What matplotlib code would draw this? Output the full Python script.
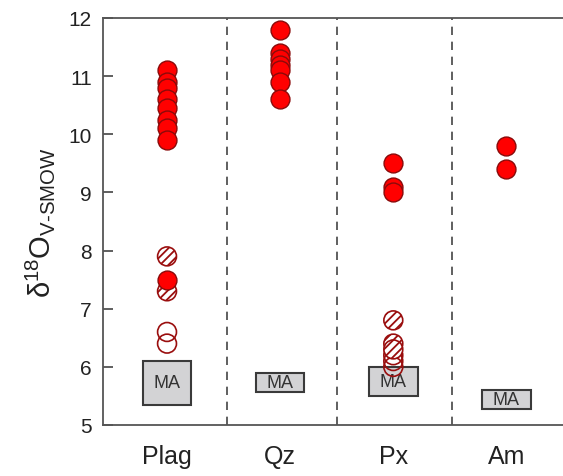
import matplotlib.pyplot as plt
from matplotlib.patches import Rectangle

plt.rcParams['font.family'] = ['Liberation Sans', 'DejaVu Sans']
plt.rcParams['mathtext.fontset'] = 'custom'
plt.rcParams['mathtext.rm'] = 'Liberation Sans'
plt.rcParams['mathtext.it'] = 'Liberation Sans'
plt.rcParams['hatch.color'] = '#a01010'
plt.rcParams['hatch.linewidth'] = 1.3

# Mineral groups
minerals = ['Plag', 'Qz', 'Px', 'Am']

# delta18O values per mineral, split by symbol type
filled = {
    'Plag': [11.1, 10.9, 10.8, 10.6, 10.45, 10.25, 10.1, 9.9, 7.5],
    'Qz': [11.8, 11.4, 11.3, 11.2, 11.1, 10.9, 10.6],
    'Px': [9.5, 9.1, 9.0],
    'Am': [9.8, 9.4],
}
hatched = {
    'Plag': [7.9, 7.3],
    'Px': [6.8, 6.4, 6.3],
}
open_pts = {
    'Plag': [6.6, 6.4],
    'Px': [6.2, 6.1, 6.0],
}

# MA range (low, high) for each mineral
ma_low = [5.35, 5.56, 5.50, 5.27]
ma_high = [6.10, 5.90, 5.99, 5.60]

fig = plt.figure(figsize=(5.63, 4.77), dpi=100)
ax = fig.add_axes([103 / 563, 51 / 477, 1 - 103 / 563, 407 / 477])

xpos = {m: i + 1 for i, m in enumerate(minerals)}
dark_red = '#9a0e0e'

# MA boxes
box_w = 0.43
for i, m in enumerate(minerals):
    x = xpos[m]
    ax.add_patch(Rectangle((x - box_w / 2, ma_low[i]), box_w, ma_high[i] - ma_low[i],
                           facecolor='#d3d3d5', edgecolor='#3a3a3a', lw=1.5, zorder=2))
    ax.text(x, (ma_low[i] + ma_high[i]) / 2, 'MA', ha='center', va='center',
            fontsize=13, color='#333333', zorder=3)

ms = 185
for m in minerals:
    x = xpos[m]
    if m in open_pts:
        ax.scatter([x] * len(open_pts[m]), open_pts[m], s=ms, facecolor='none',
                   edgecolor=dark_red, lw=1.2, zorder=4)
    if m in hatched:
        ax.scatter([x] * len(hatched[m]), hatched[m], s=ms, facecolor='white',
                   edgecolor=dark_red, hatch='////', lw=1.2, zorder=5)
    ax.scatter([x] * len(filled[m]), filled[m], s=ms, facecolor='#ff0000',
               edgecolor='#8a0a0a', lw=1.0, zorder=6)

# group dividers
for xd in [1.53, 2.5, 3.52]:
    ax.axvline(xd, color='#444444', ls=(0, (5, 4)), lw=1.2, zorder=1)

ax.set_xlim(0.434, 4.5)
ax.set_ylim(5, 12)
ax.set_yticks(range(5, 13))
ax.set_xticks([xpos[m] for m in minerals])
ax.set_xticklabels(minerals, fontsize=18, color='#222222')
ax.tick_params(axis='x', length=0, pad=14)
ax.tick_params(axis='y', direction='in', length=7, width=1.2, color='#444444',
               labelsize=15, labelcolor='#222222', pad=8)

for side in ['left', 'bottom', 'top']:
    ax.spines[side].set_color('#555555')
    ax.spines[side].set_linewidth(1.3)
ax.spines['right'].set_visible(False)

ax.set_ylabel(r'δ$^{18}$O$_{\mathregular{V‐SMOW}}$', fontsize=21, color='#222222', labelpad=8)

fig.savefig('out.png', dpi=100)
